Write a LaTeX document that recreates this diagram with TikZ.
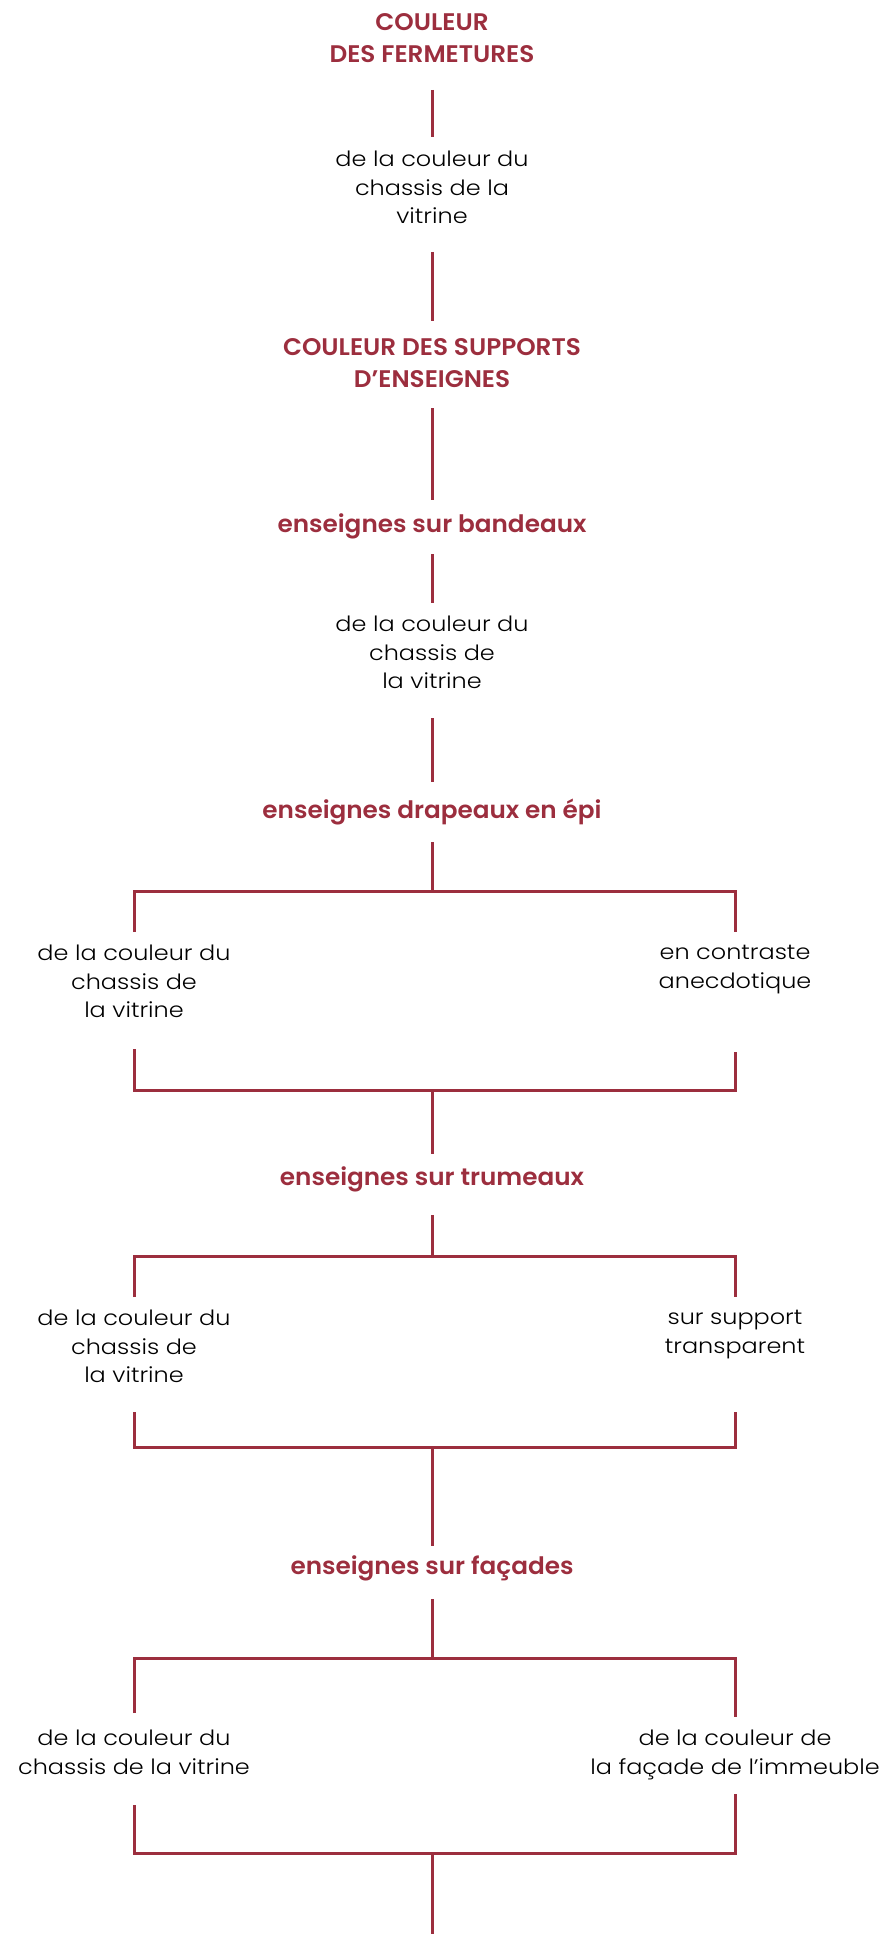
\documentclass[tikz,border=0pt]{standalone}
\usepackage{fontspec}
\newfontfamily\blkf{Poppins}[UprightFont={* Light}, FakeStretch=1.14]
\newfontfamily\redf{Poppins}[UprightFont={* SemiBold}, FakeStretch=1.03]
\definecolor{wine}{RGB}{156,46,62}
\tikzset{
  conn/.style={draw=wine, line width=3pt},
  head/.style={font=\redf\fontsize{24}{32}\selectfont, text=wine, align=center, inner sep=0pt},
  body/.style={font=\blkf\fontsize{21}{28.5}\selectfont, text=black, align=center, inner sep=0pt},
}
\begin{document}
\begin{tikzpicture}[x=1pt,y=-1pt]
\useasboundingbox (0,0) rectangle (891,1934);
% texts
\node[head, anchor=north] (t1) at (432,13) {COULEUR\\DES FERMETURES};
\node[body, anchor=north] (b1) at (432,151) {de la couleur du\\chassis de la\\vitrine};
\node[head, anchor=north] (t2) at (432,338) {COULEUR DES SUPPORTS\\D’ENSEIGNES};
\node[head, anchor=base] (t3) at (432,532) {enseignes sur bandeaux};
\node[body, anchor=north] (b2) at (432,616) {de la couleur du\\chassis de\\la vitrine};
\node[head, anchor=base] (t4) at (432,818) {enseignes drapeaux en épi};
\node[body, anchor=north] (b3l) at (134,945) {de la couleur du\\chassis de\\la vitrine};
\node[body, anchor=north] (b3r) at (735,945) {en contraste\\anecdotique};
\node[head, anchor=base] (t5) at (432,1185) {enseignes sur trumeaux};
\node[body, anchor=north] (b4l) at (134,1310) {de la couleur du\\chassis de\\la vitrine};
\node[body, anchor=north] (b4r) at (735,1310) {sur support\\transparent};
\node[head, anchor=base] (t6) at (432,1574) {enseignes sur façades};
\node[body, anchor=north] (b5l) at (134,1730) {de la couleur du\\chassis de la vitrine};
\node[body, anchor=north] (b5r) at (735,1730) {de la couleur de\\la façade de l’immeuble};
% connector end points
\coordinate (l1a) at (432,90);   \coordinate (l1b) at (432,137);
\coordinate (l2a) at (432,252);  \coordinate (l2b) at (432,321);
\coordinate (l3a) at (432,408);  \coordinate (l3b) at (432,500);
\coordinate (l4a) at (432,554);  \coordinate (l4b) at (432,603);
\coordinate (l5a) at (432,718);  \coordinate (l5b) at (432,782);
\coordinate (l6a) at (432,842);  \coordinate (s1) at (432,891);
\coordinate (s1l) at (134,932);  \coordinate (s1r) at (735,932);
\coordinate (j1l) at (134,1049); \coordinate (j1r) at (735,1052);
\coordinate (j1) at (432,1090);  \coordinate (l7b) at (432,1154);
\coordinate (l8a) at (432,1215); \coordinate (s2) at (432,1256);
\coordinate (s2l) at (134,1297); \coordinate (s2r) at (735,1297);
\coordinate (j2l) at (134,1412); \coordinate (j2r) at (735,1412);
\coordinate (j2) at (432,1447);  \coordinate (l9b) at (432,1546);
\coordinate (l10a) at (432,1599); \coordinate (s3) at (432,1658);
\coordinate (s3l) at (134,1713); \coordinate (s3r) at (735,1717);
\coordinate (j3l) at (134,1805); \coordinate (j3r) at (735,1794);
\coordinate (j3) at (432,1853);  \coordinate (l11b) at (432,1934);
% connectors
\draw[conn] (l1a) -- (l1b);
\draw[conn] (l2a) -- (l2b);
\draw[conn] (l3a) -- (l3b);
\draw[conn] (l4a) -- (l4b);
\draw[conn] (l5a) -- (l5b);
\draw[conn] (l6a) -- (s1);
\draw[conn] (s1l) |- (s1) -| (s1r);
\draw[conn] (j1l) |- (j1) -| (j1r);
\draw[conn] (j1) -- (l7b);
\draw[conn] (l8a) -- (s2);
\draw[conn] (s2l) |- (s2) -| (s2r);
\draw[conn] (j2l) |- (j2) -| (j2r);
\draw[conn] (j2) -- (l9b);
\draw[conn] (l10a) -- (s3);
\draw[conn] (s3l) |- (s3) -| (s3r);
\draw[conn] (j3l) |- (j3) -| (j3r);
\draw[conn] (j3) -- (l11b);
\end{tikzpicture}
\end{document}
